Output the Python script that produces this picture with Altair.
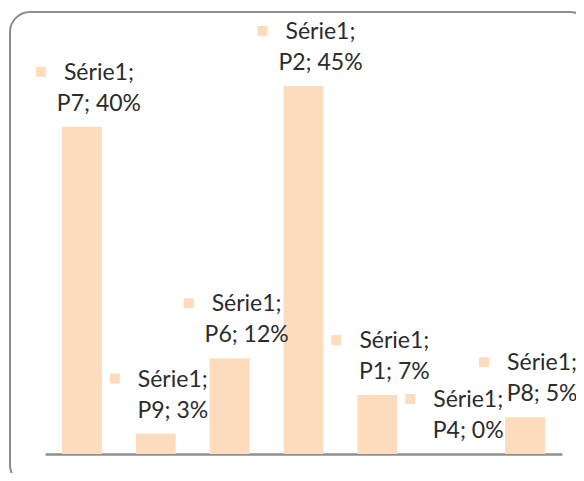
import altair as alt
import pandas as pd

# ---- data ----
series_name = "Série1"
categories = ["P7", "P9", "P6", "P2", "P1", "P4", "P8"]
values = [40.0, 2.5, 11.7, 45.0, 7.2, 0.0, 4.5]          # percent (bar heights)
pct_labels = ["40%", "3%", "12%", "45%", "7%", "0%", "5%"]  # label text

df = pd.DataFrame({
    "cat": categories,
    "val": values,
    "label": [f"{series_name};\n{c}; {p}" for c, p in zip(categories, pct_labels)],
})

BAR = "#FDDCBE"
TXT = "#2b2b2b"
FONT = "Lato"

x_enc = alt.X("cat:N", sort=categories,
              scale=alt.Scale(paddingInner=0.46, paddingOuter=0.23),
              axis=alt.Axis(title=None, labels=False, ticks=False,
                            domainColor="#8f8f8f", domainWidth=2.5, grid=False))
y_enc = alt.Y("val:Q", scale=alt.Scale(domain=[0, 50], nice=False, zero=True),
              axis=None)

base = alt.Chart(df)

frame = alt.Chart(alt.Data(values=[{}])).mark_rect(
    fill="transparent", stroke="#8c8c8c", strokeWidth=2, cornerRadius=20
).encode(x=alt.value(-35), x2=alt.value(545), y=alt.value(-33), y2=alt.value(440))

bars = base.mark_bar(color=BAR).encode(x=x_enc, y=y_enc)

texts = base.mark_text(
    font=FONT, fontSize=23, color=TXT, align="center", baseline="alphabetic",
    lineBreak="\n", lineHeight=31, dx=17, dy=-47
).encode(x=x_enc, y=y_enc, text="label:N")

markers = base.mark_square(
    color=BAR, size=100, opacity=1, xOffset=-41, yOffset=-55
).encode(x=x_enc, y=y_enc)

chart = alt.layer(frame, bars, texts, markers).properties(
    width=517, height=409,
    autosize="none",
    padding={"left": 37, "top": 37, "right": 14, "bottom": 19},
).configure_view(strokeWidth=0)

chart.save("out.html", embed_options={"renderer": "svg", "actions": False})
